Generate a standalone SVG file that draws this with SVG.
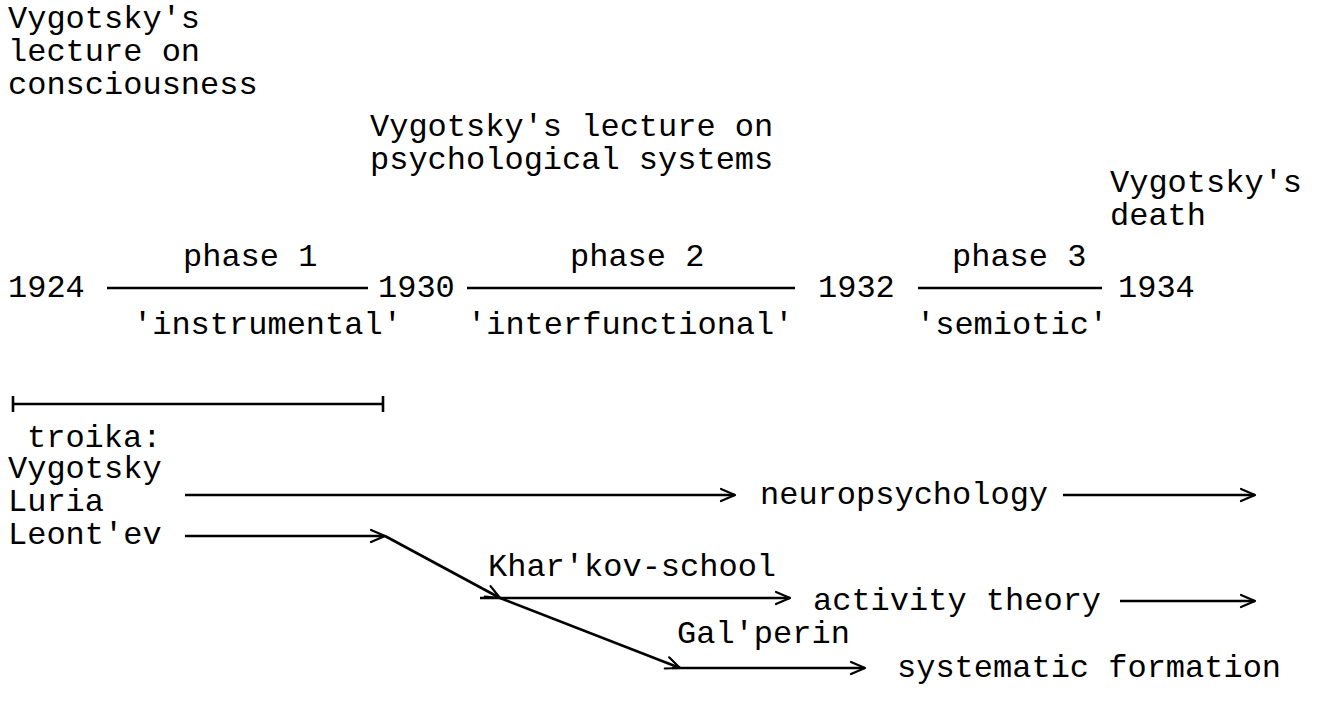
<svg xmlns="http://www.w3.org/2000/svg" width="1317" height="712" viewBox="0 0 1317 712">
<defs>
<marker id="arr" markerWidth="20" markerHeight="16" refX="17" refY="8" orient="auto" markerUnits="userSpaceOnUse">
<path d="M3,2 L17,8 L3,14" fill="none" stroke="#000" stroke-width="2.2" stroke-linecap="round" stroke-linejoin="round"/>
</marker>
<style>
text{font-family:"Liberation Mono","Courier New",monospace;font-size:32px;fill:#000}
.ln{stroke:#000;stroke-width:2.6;fill:none}
</style>
</defs>
<rect width="1317" height="712" fill="#fff"/>
<g id="lecture-consciousness"><text x="8" y="28">Vygotsky's</text><text x="8" y="61">lecture on</text><text x="8" y="94">consciousness</text></g>
<g id="lecture-systems"><text x="370" y="136">Vygotsky's lecture on</text><text x="370" y="169">psychological systems</text></g>
<g id="death"><text x="1110" y="192">Vygotsky's</text><text x="1110" y="225">death</text></g>
<g id="y1924"><text x="8" y="297">1924</text></g>
<g id="y1930"><text x="378" y="297">1930</text></g>
<g id="y1932"><text x="818" y="297">1932</text></g>
<g id="y1934"><text x="1118" y="297">1934</text></g>
<g id="phase1"><text x="183" y="266">phase 1</text><text x="133" y="334">'instrumental'</text></g>
<g id="phase2"><text x="570" y="266">phase 2</text><text x="467" y="334">'interfunctional'</text></g>
<g id="phase3"><text x="952" y="266">phase 3</text><text x="916" y="334">'semiotic'</text></g>
<g id="troika"><text x="27" y="447">troika:</text><text x="8" y="478">Vygotsky</text><text x="8" y="511">Luria</text><text x="8" y="544">Leont'ev</text></g>
<g id="neuropsychology"><text x="760" y="504">neuropsychology</text></g>
<g id="kharkov"><text x="488" y="576">Khar'kov-school</text></g>
<g id="activity"><text x="813" y="610">activity theory</text></g>
<g id="galperin"><text x="677" y="643">Gal'perin</text></g>
<g id="systematic"><text x="897" y="677">systematic formation</text></g>
<g id="connectors">
<line class="ln" x1="107" y1="288" x2="368" y2="288"/>
<line class="ln" x1="467" y1="288" x2="795" y2="288"/>
<line class="ln" x1="918" y1="288" x2="1102" y2="288"/>
<line class="ln" x1="13" y1="404" x2="383" y2="404"/>
<line class="ln" x1="13" y1="396" x2="13" y2="412"/>
<line class="ln" x1="383" y1="396" x2="383" y2="412"/>
<line class="ln" x1="185" y1="495" x2="735" y2="495" marker-end="url(#arr)"/>
<line class="ln" x1="1063" y1="495" x2="1255" y2="495" marker-end="url(#arr)"/>
<line class="ln" x1="185" y1="536" x2="385" y2="536" marker-end="url(#arr)"/>
<line class="ln" x1="385" y1="536" x2="500" y2="598" marker-end="url(#arr)"/>
<line class="ln" x1="500" y1="598" x2="680" y2="668" marker-end="url(#arr)"/>
<line class="ln" x1="480" y1="598" x2="790" y2="598" marker-end="url(#arr)"/>
<line class="ln" x1="1120" y1="601" x2="1255" y2="601" marker-end="url(#arr)"/>
<line class="ln" x1="672" y1="668" x2="865" y2="668" marker-end="url(#arr)"/>
</g>
</svg>
